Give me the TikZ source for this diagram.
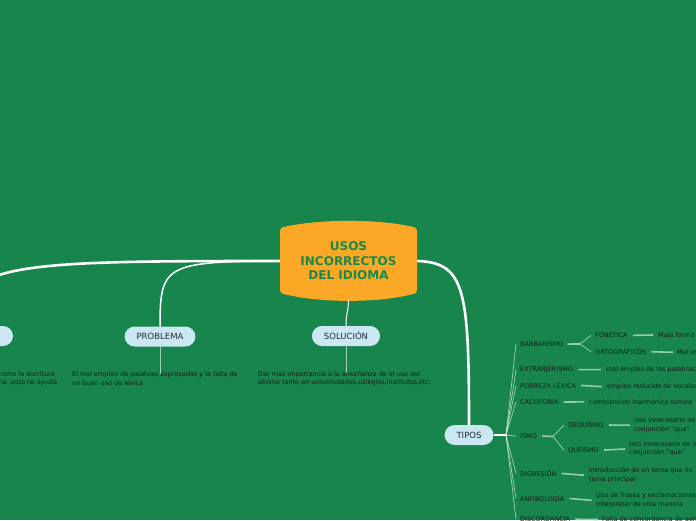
\documentclass[tikz,border=0pt]{standalone}
\usepackage{fontspec}
\setmainfont{DejaVu Sans}
\definecolor{bg}{RGB}{23,133,76}
\definecolor{bgdot}{RGB}{19,121,68}
\definecolor{orng}{RGB}{250,168,37}
\definecolor{pillc}{RGB}{203,231,242}
\definecolor{pilltxt}{RGB}{35,45,55}
\definecolor{txt}{RGB}{20,30,24}
\definecolor{leafln}{RGB}{150,202,172}
\definecolor{centertxt}{RGB}{24,136,78}
\tikzset{
  pill/.style={fill=pillc, text=pilltxt, rounded corners=10pt, minimum height=20pt,
    inner xsep=12pt, inner ysep=0pt, font=\fontsize{8.5}{10}\selectfont},
  small/.style={font=\fontsize{6.45}{8.4}\selectfont, text=txt, inner sep=0pt},
  cat/.style={small, anchor=base west},
  leaf/.style={small, anchor=west, align=left},
  leaf1/.style={small, anchor=base west},
  bigbranch/.style={white, line width=2.6pt},
  midbranch/.style={white, line width=1.5pt},
  thinbranch/.style={white, line width=1pt},
  fan/.style={white, opacity=.6, line width=.7pt},
  link/.style={leafln, line width=1.6pt},
  stem/.style={white, opacity=.6, line width=.8pt},
  centertext/.style={text=centertxt, font=\fontsize{12}{14.5}\selectfont\bfseries,
    align=center, minimum width=137pt, minimum height=78pt, inner sep=0pt}
}
\begin{document}
\begin{tikzpicture}[x=1pt,y=-1pt]
\path[use as bounding box, fill=bg] (0,0) rectangle (696,520);
\clip (0,0) rectangle (696,520);
\foreach \x in {9,19,...,689} \foreach \y in {9,19,...,519} \fill[bgdot] (\x,\y) circle (0.6pt);

% central node
\fill[orng] (280,232) .. controls (280,228) and (282,227) .. (286,226.5)
  .. controls (320,219) and (378,219) .. (411,226.5)
  .. controls (415,227) and (417,228) .. (417,232) -- (417,289)
  .. controls (417,293) and (415,294) .. (411,294.5)
  .. controls (378,303) and (320,303) .. (286,294.5)
  .. controls (282,294) and (280,293) .. (280,289) -- cycle;
\node[centertext] (c) at (348.5,261) {USOS\\INCORRECTOS\\DEL IDIOMA};

% first level nodes
\node[pill, text width=82pt, align=right] (l) at (-40,336) {N};
\node[pill] (p) at (160,336.5) {PROBLEMA};
\node[pill] (s) at (346,336) {SOLUCIÓN};
\node[pill] (t) at (469,435) {TIPOS};

% main connectors
\draw[bigbranch] (c.west) .. controls (20,261) and (-40,262) .. (l.north);
\draw[midbranch] (c.west) .. controls (165,261.5) and (160,265) .. (p.north);
\draw[thinbranch] (c.south) .. controls (348,315) and (346,312) .. (s.north);
\draw[bigbranch] (c.east) .. controls (465,262.5) and (469,290) .. (t.north);

% descriptions
\node[leaf] (ld) at (-1.5,378.7) {como la escritura\\ria ,esto no ayuda};
\node[leaf] (pd) at (72,378.7) {El mal empleo de palabras expresadas y la falta de\\un buen uso de léxica};
\node[leaf] (sd) at (258,378.7) {Dar mas importancia a la enseñanza de el uso del\\idioma tanto en universidades,colegios,institutos,etc.};
\draw[stem] (p.south) -- ([yshift=-2pt]pd.north -| p.south);
\draw[stem] (s.south) -- ([yshift=-2pt]sd.north -| s.south);

% TIPOS categories
\coordinate (j) at (506,435);
\draw[white, line width=1.2pt] (t.east) -- (j);
\node[cat] (bar) at (520,346.4) {BARBARISMO};
\node[cat] (ext) at (520,371.4) {EXTRANJERISMO};
\node[cat] (pob) at (520,388.4) {POBREZA LÉXICA};
\node[cat] (cac) at (520,404.4) {CACOFONIA};
\node[cat] (ism) at (520,438.4) {ISMO};
\node[cat] (dig) at (520,476.4) {DIGRESIÓN};
\node[cat] (anf) at (520,501.4) {ANFIBOLOGÍA};
\node[cat] (dis) at (520,521.6) {DISCORDANCIA};
\foreach \n in {bar,ext,pob,cac,ism,dig,anf,dis}
  \draw[fan] (j) -- ([xshift=-4pt]\n.west);

% BARBARISMO
\coordinate (jb) at (580,344);
\node[cat] (fon) at (595,337.7) {FONETICA};
\node[cat] (ort) at (595,354.7) {ORTOGRÁFICOS};
\draw[link] ([xshift=4pt]bar.east) -- (jb);
\draw[fan] (jb) -- ([xshift=-4pt]fon.west);
\draw[fan] (jb) -- ([xshift=-4pt]ort.west);
\node[leaf1] (fonl) at (658,337.4) {Mala forma};
\node[leaf1] (ortl) at (677,354.7) {Mal es};
\draw[link] ([xshift=5pt]fon.east) -- ([xshift=-5pt]fonl.west);
\draw[link] ([xshift=5pt]ort.east) -- ([xshift=-4pt]ortl.west);

% single leaves
\node[leaf1] (extl) at (606,371.4) {mal empleo de las palabras};
\node[leaf1] (pobl) at (607,388.4) {empleo reducido de vocabulario};
\node[leaf1] (cacl) at (589,404.4) {combiancion inarmónica sonora};
\draw[link] ([xshift=5pt]ext.east) -- ([xshift=-5pt]extl.west);
\draw[link] ([xshift=5pt]pob.east) -- ([xshift=-5pt]pobl.west);
\draw[link] ([xshift=5pt]cac.east) -- ([xshift=-5pt]cacl.west);

% ISMO
\coordinate (ji) at (553,436.5);
\node[cat] (deq) at (568,427) {DEQUISMO};
\node[cat] (que) at (568,452) {QUEISMO};
\draw[link] ([xshift=5pt]ism.east) -- (ji);
\draw[fan] (ji) -- ([xshift=-4pt]deq.west);
\draw[fan] (ji) -- ([xshift=-4pt]que.west);
\node[leaf] (deql) at (634,425.2) {Uso innecesario de\\conjunción "que"};
\node[leaf] (quel) at (629,449) {Uso innecesario de la\\conjunción "que"};
\draw[link] ([xshift=5pt]deq.east) -- ([xshift=-4pt]deql.west);
\draw[link] ([xshift=5pt]que.east) -- ([xshift=-4pt]quel.west);

% remaining
\node[leaf] (digl) at (589,475.2) {Introducción de un tema que no\\tema principal};
\node[leaf] (anfl) at (596,500.4) {Uso de frases y exclamaciones\\interpretar de otra manera};
\node[leaf1] (disl) at (602,521.4) {Falta de concordancia de género};
\draw[link] ([xshift=5pt]dig.east) -- ([xshift=-5pt]digl.west);
\draw[link] ([xshift=5pt]anf.east) -- ([xshift=-4pt]anfl.west);
\draw[link] ([xshift=5pt]dis.east) -- ([xshift=-4pt]disl.west);
\end{tikzpicture}
\end{document}
